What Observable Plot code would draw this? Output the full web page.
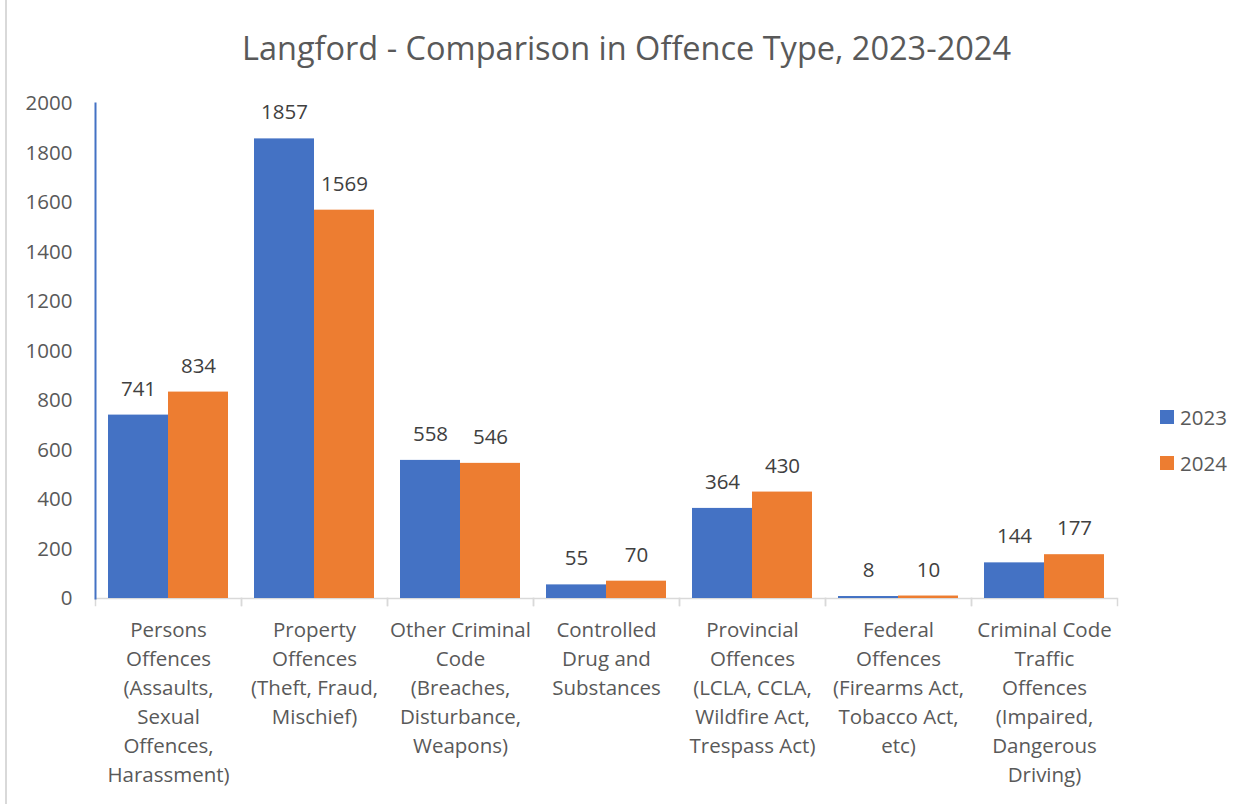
<!DOCTYPE html>
<html>
<head>
<meta charset="utf-8">
<script src="https://cdn.jsdelivr.net/npm/d3@7"></script>
<script src="https://cdn.jsdelivr.net/npm/@observablehq/plot@0.6"></script>
<style>
  html, body { margin: 0; padding: 0; background: #fff; }
  #wrap { position: relative; width: 1253px; height: 804px; overflow: hidden; font-family: "Open Sans", sans-serif; }
  #border { position: absolute; left: 5px; top: 0; width: 0; height: 804px; border-left: 2px solid #D9D9D9; }
  #title { position: absolute; left: 0; top: 28px; width: 1253px; text-align: center; font-size: 32.5px; line-height: 40px; color: #595959; }
  #chart { position: absolute; left: 0; top: 80px; }
  #legend { position: absolute; left: 1160px; top: 404px; font-size: 20.5px; color: #595959; }
  .item { display: flex; align-items: center; height: 26px; margin-bottom: 20px; }
  .sw { width: 14px; height: 14px; margin-right: 6px; }
</style>
</head>
<body>
<div id="wrap">
  <div id="border"></div>
  <div id="title">Langford - Comparison in Offence Type, 2023-2024</div>
  <div id="chart"></div>
  <div id="legend"></div>
</div>
<script>
const categories = [
  "Persons\nOffences\n(Assaults,\nSexual\nOffences,\nHarassment)",
  "Property\nOffences\n(Theft, Fraud,\nMischief)",
  "Other Criminal\nCode\n(Breaches,\nDisturbance,\nWeapons)",
  "Controlled\nDrug and\nSubstances",
  "Provincial\nOffences\n(LCLA, CCLA,\nWildfire Act,\nTrespass Act)",
  "Federal\nOffences\n(Firearms Act,\nTobacco Act,\netc)",
  "Criminal Code\nTraffic\nOffences\n(Impaired,\nDangerous\nDriving)"
];
const years = ["2023", "2024"];
const values2023 = [741, 1857, 558, 55, 364, 8, 144];
const values2024 = [834, 1569, 546, 70, 430, 10, 177];
const colors = ["#4472C4", "#ED7D31"];
const yTicks = [0, 200, 400, 600, 800, 1000, 1200, 1400, 1600, 1800, 2000];

const data = categories.flatMap((c, i) => [
  {category: c, year: years[0], value: values2023[i]},
  {category: c, year: years[1], value: values2024[i]}
]);

const chart = Plot.plot({
  width: 1253,
  height: 724,
  marginTop: 23,
  marginBottom: 206,
  marginLeft: 95,
  marginRight: 136,
  style: {fontFamily: "Open Sans, sans-serif", background: "transparent"},
  fx: {domain: categories, padding: 0, label: null},
  x: {domain: years, paddingInner: 0, paddingOuter: 0.21, axis: null},
  y: {domain: [0, 2000], label: null},
  color: {domain: years, range: colors},
  marks: [
    Plot.ruleY([0], {stroke: "#D9D9D9", strokeWidth: 1.5}),
    Plot.frame({anchor: "left", insetTop: 495, insetBottom: -7, stroke: "#D9D9D9", strokeWidth: 1.5}),
    Plot.frame({anchor: "right", insetTop: 495, insetBottom: -7, stroke: "#D9D9D9", strokeWidth: 1.5}),
    Plot.barY(data, {fx: "category", x: "year", y: "value", fill: "year"}),
    Plot.text(data, {fx: "category", x: "year", y: "value", text: d => String(d.value), dy: -26, fill: "#404040", fontSize: 20.5}),
    Plot.frame({anchor: "left", facetAnchor: "left", stroke: "#4472C4", strokeWidth: 2}),
    Plot.axisY({ticks: yTicks, tickSize: 0, tickPadding: 23, fill: "#595959", fontSize: 20.5, label: null, tickFormat: d => String(d)}),
    Plot.axisFx({anchor: "bottom", tickSize: 0, tickPadding: 18, fontSize: 20.5, lineHeight: 1.41, fill: "#595959", label: null, lineWidth: 100})
  ]
});
document.getElementById("chart").appendChild(chart);

const legend = document.getElementById("legend");
years.forEach((y, i) => {
  const item = document.createElement("div");
  item.className = "item";
  const sw = document.createElement("div");
  sw.className = "sw";
  sw.style.background = colors[i];
  const t = document.createElement("span");
  t.textContent = y;
  item.appendChild(sw);
  item.appendChild(t);
  legend.appendChild(item);
});
</script>
</body>
</html>
